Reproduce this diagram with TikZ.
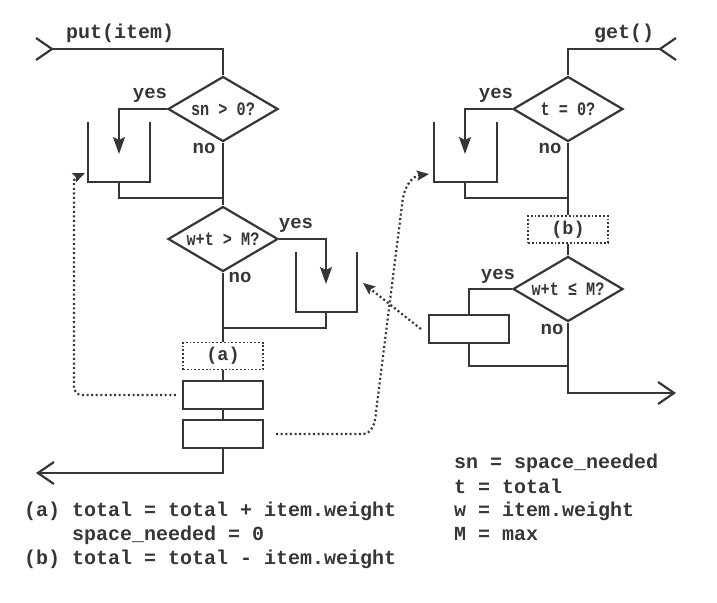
\documentclass[tikz,border=0pt]{standalone}
\usepackage{fontspec}
\setmonofont{Liberation Mono}
\newfontfamily\narrowmono[FakeStretch=0.8]{Liberation Mono}
\usetikzlibrary{shapes.geometric,arrows.meta}
\definecolor{ink}{HTML}{363636}

\begin{document}
\begin{tikzpicture}[x=1pt, y=-1pt, line width=2.2pt, color=ink,
        font=\ttfamily\bfseries\fontsize{20}{24}\selectfont,
        decision/.style={diamond, draw, fill=white, aspect=1.7, inner sep=0pt,
            minimum width=110pt, minimum height=65pt,
            font=\narrowmono\bfseries\fontsize{19}{20}\selectfont},
        action/.style={draw, fill=white, minimum width=80pt, minimum height=28pt, inner sep=0pt},
        tagbox/.style={action, minimum height=27pt, line width=1.8pt, dash pattern=on 1.8pt off 2pt,
            font=\ttfamily\bfseries\fontsize{18.5}{20}\selectfont},
        answer/.style={inner sep=0pt, font=\ttfamily\bfseries\fontsize{19}{20}\selectfont},
        note/.style={anchor=base west, inner sep=0pt},
        flow/.style={-{Stealth[length=17pt, width=12pt, inset=3pt]}},
        exit/.style={-{Straight Barb[length=16pt, width=22pt]}},
        hint/.style={dash pattern=on 2pt off 2.6pt, -{Stealth[length=12pt, width=10pt, inset=2pt]}}]
        \useasboundingbox (0,0) rectangle (717,602);
        % put(item)
        \coordinate (putin) at (52,49);
        \coordinate (putout) at (36,473);
        \coordinate (wait1) at (119,154);
        \coordinate (wait2) at (326,284);
        \coordinate (bin1) at (85,173);
        \coordinate (bin2) at (363,283);
        \node[note] (putname) at (65,38) {put(item)};
        \node[decision] (snq) at (223,109) {sn > 0?};
        \node[answer] at (150,95) {yes};
        \node[answer] at (204,148) {no};
        \node[decision] (fitq) at (223,239) {w+t > M?};
        \node[answer] at (296,225) {yes};
        \node[answer] at (240,277) {no};
        \node[tagbox] (taga) at (223,356) {(a)};
        \node[action] (adda) at (223,395) {};
        \node[action] (adds) at (223,434) {};
        \draw (putin) ++(-16,-11) -- (putin) -- ++(-16,11);
        \draw (putin) -| (snq.north);
        \draw[flow] (snq.west) -| (wait1);
        \draw (88,122) |- (150,182) -- (150,122);
        \draw (119,182) |- (223,198);
        \draw (snq.south) -- (fitq.north);
        \draw[flow] (fitq.east) -| (wait2);
        \draw (296,252) |- (357,312) -- (357,252);
        \draw (326,312) |- (223,328);
        \draw (fitq.south) -- (taga.north);
        \draw (taga.south) -- (adda.north);
        \draw (adda.south) -- (adds.north);
        \draw[exit] (adds.south) |- (putout);
        % get()
        \coordinate (getin) at (660,49);
        \coordinate (getout) at (676,393);
        \coordinate (wait3) at (465,154);
        \coordinate (bin3) at (429,174);
        \node[note] (getname) at (593,38) {get()};
        \node[decision] (emptyq) at (568,109) {t = 0?};
        \node[answer] at (496,95) {yes};
        \node[answer] at (550,148) {no};
        \node[tagbox] (tagb) at (568,229.5) {(b)};
        \node[decision] (okq) at (568,289) {w+t ≤ M?};
        \node[answer] at (498,276) {yes};
        \node[answer] at (552,329) {no};
        \node[action] (take) at (469,329) {};
        \draw (getin) ++(16,-11) -- (getin) -- ++(16,11);
        \draw (getin) -| (emptyq.north);
        \draw[flow] (emptyq.west) -| (wait3);
        \draw (434,122) |- (497,182) -- (497,122);
        \draw (465,182) |- (568,198);
        \draw (emptyq.south) -- (tagb.north);
        \draw (tagb.south) -- (okq.north);
        \draw (okq.west) -| (take.north);
        \draw (take.south) |- (568,366);
        \draw[exit] (okq.south) |- (getout);
        % dotted links
        \draw[hint, rounded corners=8pt] ([xshift=-6pt]adda.west) -- (74,395) -- (74,188)
            .. controls (74,181) and (78,176) .. (bin1);
        \draw[hint] ([xshift=12pt]adds.east) -- (362,434) .. controls (372,434) and (375,424) .. (376,412)
            -- (402,205) .. controls (404,183) and (414,176) .. (bin3);
        \draw[hint] ([xshift=-7pt]take.west) -- (bin2);
        % legend
        \node[note] (notea) at (23,516) {(a) total = total + item.weight};
        \node[note] (notea2) at (23,540) {\phantom{(a)} space\_needed = 0};
        \node[note] (noteb) at (23,564) {(b) total = total - item.weight};
        \node[note] (keysn) at (453,468) {sn = space\_needed};
        \node[note] (keyt) at (453,493) {t = total};
        \node[note] (keyw) at (453,516) {w = item.weight};
        \node[note] (keym) at (453,540) {M = max};
\end{tikzpicture}
\end{document}
